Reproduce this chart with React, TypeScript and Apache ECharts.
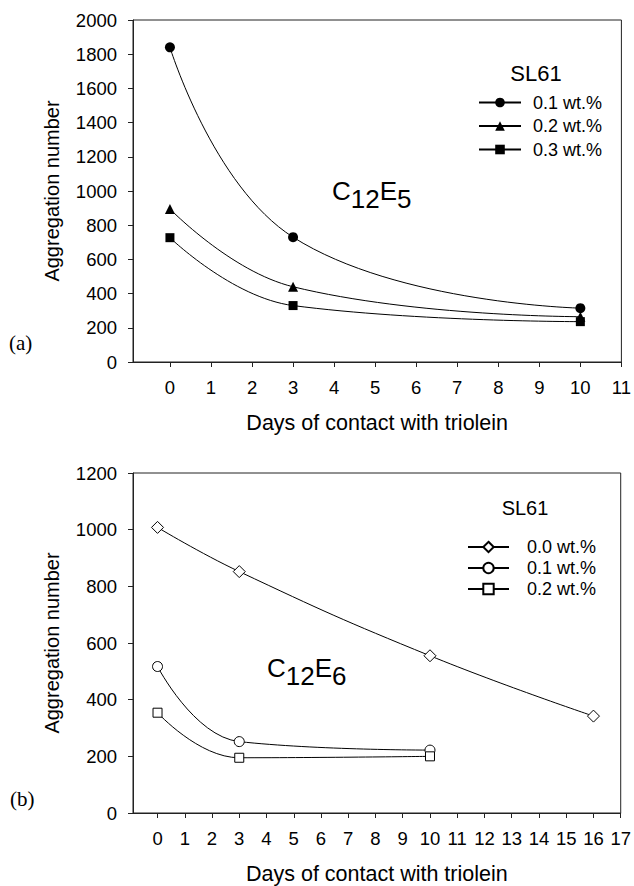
import React, { useEffect, useRef } from "react";
import * as echarts from "echarts";

// ---------- data ----------
const topDays = [0, 3, 10];
const topLegendNames = ["0.1 wt.%", "0.2 wt.%", "0.3 wt.%"];
const topWt01 = [1840, 730, 315];
const topWt02 = [895, 440, 265];
const topWt03 = [727, 330, 236];
const topXTicks = [0, 1, 2, 3, 4, 5, 6, 7, 8, 9, 10, 11];

const bottomDaysLong = [0, 3, 10, 16];
const bottomDays = [0, 3, 10];
const bottomLegendNames = ["0.0 wt.%", "0.1 wt.%", "0.2 wt.%"];
const bottomWt00 = [1008, 852, 555, 342];
const bottomWt01 = [517, 252, 222];
const bottomWt02 = [354, 195, 200];
const bottomXTicks = [0, 1, 2, 3, 4, 5, 6, 7, 8, 9, 10, 11, 12, 13, 14, 15, 16, 17];

const xAxisTitle = "Days of contact with triolein";
const yAxisTitle = "Aggregation number";
const legendTitle = "SL61";

const FONT = '"Liberation Sans", Arial, sans-serif';
const SERIF = '"Liberation Serif", "Times New Roman", serif';
const BLACK = "#000";
const AXIS = "#222";

const zip = (xs: number[], ys: number[]) => xs.map((x, i) => [x, ys[i]]);

function xAxisOpt(gridIndex: number, max: number, ticks: number[]) {
  return {
    type: "value",
    gridIndex,
    min: -0.9,
    max,
    splitLine: { show: false },
    axisLine: { show: true, onZero: false, lineStyle: { color: AXIS, width: 1 } },
    axisTick: { show: true, customValues: ticks, length: 5, lineStyle: { color: AXIS } },
    axisLabel: { customValues: ticks, fontSize: 18.5, color: BLACK, fontFamily: FONT, margin: 16, formatter: (v: number) => String(v) },
    name: xAxisTitle,
    nameLocation: "middle",
    nameGap: 50,
    nameTextStyle: { fontSize: 21.5, color: BLACK, fontFamily: FONT },
  };
}

function yAxisOpt(gridIndex: number, max: number, interval: number) {
  return {
    type: "value",
    gridIndex,
    min: 0,
    max,
    interval,
    splitLine: { show: false },
    axisLine: { show: true, onZero: false, lineStyle: { color: AXIS, width: 1 } },
    axisTick: { show: true, length: 5, lineStyle: { color: AXIS } },
    axisLabel: { fontSize: 18.5, color: BLACK, fontFamily: FONT, margin: 16, formatter: (v: number) => String(v) },
    name: yAxisTitle,
    nameLocation: "middle",
    nameGap: 71,
    nameTextStyle: { fontSize: 20, color: BLACK, fontFamily: FONT },
  };
}

function lineSeries(
  name: string,
  gi: number,
  xs: number[],
  ys: number[],
  symbol: string,
  size: number | number[],
  filled: boolean
) {
  return {
    type: "line",
    name,
    xAxisIndex: gi,
    yAxisIndex: gi,
    data: zip(xs, ys),
    smooth: 0.45,
    symbol,
    symbolSize: size,
    showSymbol: true,
    lineStyle: { color: BLACK, width: 1 },
    itemStyle: filled
      ? { color: BLACK, borderColor: BLACK, borderWidth: 0 }
      : { color: "#fff", borderColor: BLACK, borderWidth: 1 },
    emphasis: { disabled: true },
  };
}

function formulaText(x: number, y: number, main: string, sub1: string, main2: string, sub2: string) {
  // C_12 E_n drawn as separate text runs (subscripts shifted down)
  const fs = 26;
  const w = (s: string) => {
    const widths: Record<string, number> = { C: 0.722, E: 0.667 };
    return s.split("").reduce((a, ch) => a + (widths[ch] ?? 0.556) * fs, 0);
  };
  const style = (text: string) => ({
    text,
    fontSize: fs,
    fontFamily: FONT,
    fill: BLACK,
    textAlign: "left",
    textVerticalAlign: "middle",
    align: "left",
    verticalAlign: "middle",
  });
  const x1 = x + w(main);
  const x2 = x1 + w(sub1);
  const x3 = x2 + w(main2);
  return [
    { type: "text", x, y, style: style(main) },
    { type: "text", x: x1, y: y + 8, style: style(sub1) },
    { type: "text", x: x2, y, style: style(main2) },
    { type: "text", x: x3, y: y + 8, style: style(sub2) },
  ];
}

function centeredText(text: string, x: number, y: number, fontSize: number, fontFamily: string, align = "center") {
  return {
    type: "text",
    x,
    y,
    style: { text, fontSize, fontFamily, fill: BLACK, textAlign: align, textVerticalAlign: "middle", align, verticalAlign: "middle" },
  };
}

export default function App() {
  const ref = useRef<HTMLDivElement>(null);

  useEffect(() => {
    if (!ref.current) return;
    const chart = echarts.init(ref.current, null, { renderer: "svg" });

    const option = {
      animation: false,
      backgroundColor: "#fff",
      textStyle: { fontFamily: FONT, color: BLACK },
      grid: [
        { left: 133, top: 20, width: 489, height: 342, show: true, borderColor: AXIS, borderWidth: 1, backgroundColor: "transparent" },
        { left: 133, top: 473, width: 491, height: 344, show: true, borderColor: AXIS, borderWidth: 1, backgroundColor: "transparent" },
      ],
      xAxis: [xAxisOpt(0, 11, topXTicks), xAxisOpt(1, 17, bottomXTicks)],
      yAxis: [yAxisOpt(0, 2000, 200), yAxisOpt(1, 1200, 200)],
      legend: [
        {
          data: topLegendNames.map((n) => "a|" + n),
          formatter: (n: string) => n.split("|")[1],
          orient: "vertical",
          left: 473,
          top: 88.5,
          itemWidth: 42,
          itemHeight: 12,
          itemGap: 5.5,
          selectedMode: false,
          textStyle: { fontSize: 18, lineHeight: 18, color: BLACK, fontFamily: FONT, padding: [0, 0, 0, 7] },
        },
        {
          data: bottomLegendNames.map((n) => "b|" + n),
          formatter: (n: string) => n.split("|")[1],
          orient: "vertical",
          left: 462,
          top: 533,
          itemWidth: 41,
          itemHeight: 13,
          itemGap: 3,
          selectedMode: false,
          textStyle: { fontSize: 18, lineHeight: 18, color: BLACK, fontFamily: FONT, padding: [0, 0, 0, 13] },
        },
      ],
      series: [
        lineSeries("a|" + topLegendNames[0], 0, topDays, topWt01, "circle", 10, true),
        lineSeries("a|" + topLegendNames[1], 0, topDays, topWt02, "triangle", 10, true),
        lineSeries("a|" + topLegendNames[2], 0, topDays, topWt03, "rect", 9, true),
        lineSeries("b|" + bottomLegendNames[0], 1, bottomDaysLong, bottomWt00, "diamond", 12, false),
        lineSeries("b|" + bottomLegendNames[1], 1, bottomDays, bottomWt01, "circle", 10, false),
        lineSeries("b|" + bottomLegendNames[2], 1, bottomDays, bottomWt02, "rect", 9, false),
      ],
      graphic: [
        centeredText(legendTitle, 536, 73, 22, FONT),
        centeredText(legendTitle, 525, 508, 20, FONT),
        ...formulaText(332, 191, "C", "12", "E", "5"),
        ...formulaText(267, 668, "C", "12", "E", "6"),
        centeredText("(a)", 9, 343, 21, SERIF, "left"),
        centeredText("(b)", 10, 799, 21, SERIF, "left"),
      ],
    };

    chart.setOption(option as any);
    return () => chart.dispose();
  }, []);

  return (
    <div
      ref={ref}
      style={{ position: "absolute", left: 0, top: 0, width: 634, height: 886, background: "#fff" }}
    />
  );
}
